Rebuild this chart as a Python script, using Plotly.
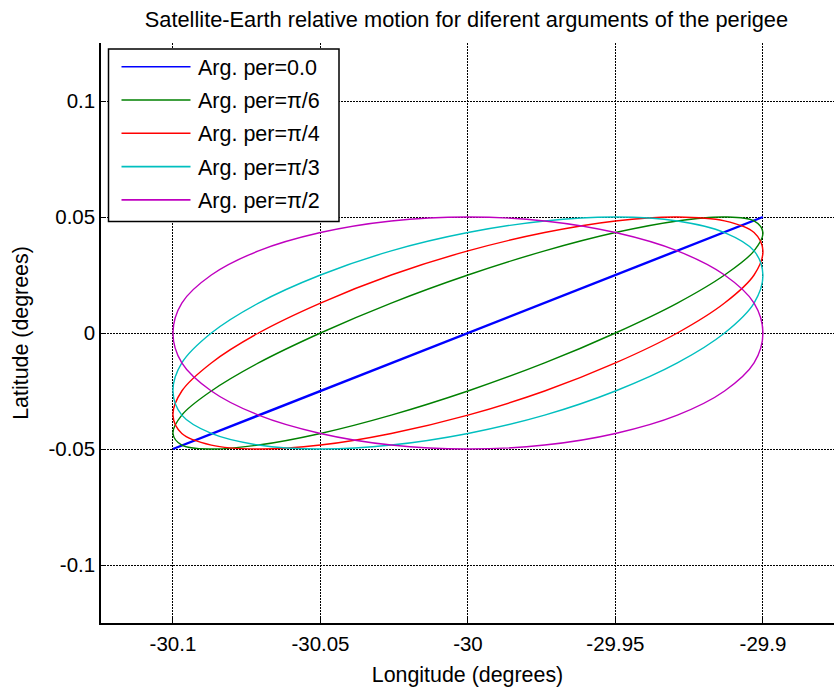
import plotly.graph_objects as go

# Longitude samples along each orbit (degrees)
lon = [-29.9, -29.903, -29.913, -29.929, -29.95, -29.974, -30.0, -30.026, -30.05,
       -30.071, -30.087, -30.097, -30.1, -30.097, -30.087, -30.071, -30.05, -30.026,
       -30.0, -29.974, -29.95, -29.929, -29.913, -29.903, -29.9]

# Latitude samples (degrees) for each argument of perigee
lat_pi6 = [0.0433, 0.0483, 0.05, 0.0483, 0.0433, 0.0354, 0.025, 0.0129, 0.0, -0.0129,
           -0.025, -0.0354, -0.0433, -0.0483, -0.05, -0.0483, -0.0433, -0.0354, -0.025,
           -0.0129, 0.0, 0.0129, 0.025, 0.0354, 0.0433]
lat_pi4 = [0.0354, 0.0433, 0.0483, 0.05, 0.0483, 0.0433, 0.0354, 0.025, 0.0129, 0.0,
           -0.0129, -0.025, -0.0354, -0.0433, -0.0483, -0.05, -0.0483, -0.0433, -0.0354,
           -0.025, -0.0129, 0.0, 0.0129, 0.025, 0.0354]
lat_pi3 = [0.025, 0.0354, 0.0433, 0.0483, 0.05, 0.0483, 0.0433, 0.0354, 0.025, 0.0129,
           0.0, -0.0129, -0.025, -0.0354, -0.0433, -0.0483, -0.05, -0.0483, -0.0433,
           -0.0354, -0.025, -0.0129, 0.0, 0.0129, 0.025]
lat_pi2 = [0.0, 0.0129, 0.025, 0.0354, 0.0433, 0.0483, 0.05, 0.0483, 0.0433, 0.0354,
           0.025, 0.0129, 0.0, -0.0129, -0.025, -0.0354, -0.0433, -0.0483, -0.05,
           -0.0483, -0.0433, -0.0354, -0.025, -0.0129, 0.0]

# Arg. per = 0 collapses to a straight segment
lon_0 = [-30.1, -29.9]
lat_0 = [-0.05, 0.05]

labels = ["Arg. per=0.0", "Arg. per=π/6", "Arg. per=π/4", "Arg. per=π/3", "Arg. per=π/2"]
colors = ["#0000FF", "#008000", "#FF0000", "#00BFBF", "#BF00BF"]

x_ticks = [-30.1, -30.05, -30.0, -29.95, -29.9]
x_tick_text = ["-30.1", "-30.05", "-30", "-29.95", "-29.9"]
y_ticks = [-0.1, -0.05, 0.0, 0.05, 0.1]
y_tick_text = ["-0.1", "-0.05", "0", "0.05", "0.1"]

FONT = "Liberation Sans, Arial, sans-serif"
W, H = 834, 691
ML, MR, MT, MB = 101, 0, 43, 68
PW, PH = W - ML - MR, H - MT - MB


def px_x(p):  # pixel -> paper x
    return (p - ML) / PW


def px_y(p):  # pixel -> paper y
    return 1 - (p - MT) / PH


fig = go.Figure()
series = [(lon_0, lat_0), (lon, lat_pi6), (lon, lat_pi4), (lon, lat_pi3), (lon, lat_pi2)]
for i, ((xs, ys), lab, col) in enumerate(zip(series, labels, colors)):
    fig.add_trace(go.Scatter(
        x=xs, y=ys, mode="lines", name=lab, showlegend=False,
        line=dict(color=col, width=2.4 if i == 0 else 1.4,
                  shape="linear" if i == 0 else "spline", smoothing=1.0),
    ))

# Legend box drawn in MATLAB style (long line samples)
shapes = [dict(type="rect", xref="paper", yref="paper",
               x0=px_x(108.5), x1=px_x(339), y0=px_y(221.5), y1=px_y(49),
               line=dict(color="black", width=1.5), fillcolor="white", layer="above")]
annotations = []
row0, row_step = 66.7, 33.3
for i, (lab, col) in enumerate(zip(labels, colors)):
    yy = row0 + i * row_step
    shapes.append(dict(type="line", xref="paper", yref="paper",
                       x0=px_x(121.5), x1=px_x(190.5), y0=px_y(yy), y1=px_y(yy),
                       line=dict(color=col, width=1.6), layer="above"))
    annotations.append(dict(text=lab, xref="paper", yref="paper",
                            x=px_x(196), y=px_y(yy + 1), xanchor="left", yanchor="middle",
                            showarrow=False, font=dict(size=21.5, family=FONT, color="black")))

fig.update_layout(
    width=W, height=H,
    margin=dict(l=ML, r=MR, t=MT, b=MB),
    paper_bgcolor="white", plot_bgcolor="white",
    font=dict(family=FONT, size=20.5, color="black"),
    title=dict(text="Satellite-Earth relative motion for diferent arguments of the perigee",
               x=0.5593, xanchor="center", y=1 - 19 / H, yanchor="middle",
               font=dict(size=21.8)),
    showlegend=False,
    shapes=shapes,
    annotations=annotations,
    xaxis=dict(range=[-30.1244, -29.8759], tickvals=x_ticks, ticktext=x_tick_text,
               showgrid=True, gridcolor="black", griddash="1.5px,1.5px", gridwidth=1.4,
               zeroline=False, showline=True, linecolor="black", linewidth=1.5,
               ticks="inside", ticklen=5, tickcolor="black", ticklabelstandoff=2,
               title=dict(text="Longitude (degrees)", standoff=13, font=dict(size=21.4))),
    yaxis=dict(range=[-0.125, 0.125], tickvals=y_ticks, ticktext=y_tick_text,
               showgrid=True, gridcolor="black", griddash="1.5px,1.5px", gridwidth=1.4,
               zeroline=False, showline=True, linecolor="black", linewidth=1.5,
               ticks="inside", ticklen=5, tickcolor="black",
               title=dict(text="Latitude (degrees)", standoff=14, font=dict(size=21.4))),
)

fig.write_html("out.html")
